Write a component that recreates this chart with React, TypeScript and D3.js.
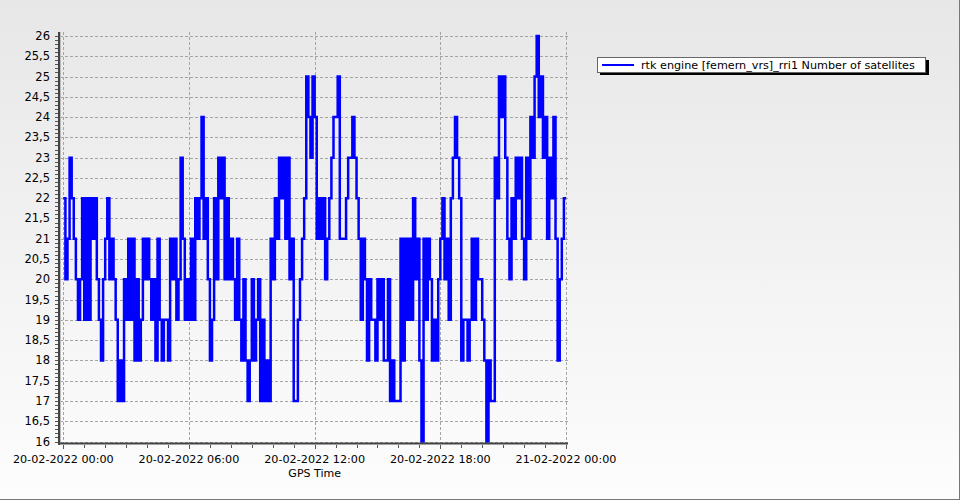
import React from 'react';
import * as d3 from 'd3';

// Number of satellites, one sample every 6 minutes, one row per hour (10 samples)
const SAMPLE_MINUTES = 6;
const satellites: number[] = [
  22, 20, 21, 23, 22, 21, 20, 19, 20, 22, // 00h
  19, 22, 19, 22, 21, 22, 20, 19, 18, 20, // 01h
  21, 22, 20, 21, 20, 19, 17, 18, 17, 20, // 02h
  19, 21, 19, 21, 18, 20, 18, 19, 21, 20, // 03h
  21, 20, 19, 20, 18, 21, 19, 18, 19, 19, // 04h
  18, 21, 20, 21, 19, 20, 23, 21, 19, 20, // 05h
  19, 21, 19, 22, 21, 22, 24, 21, 22, 20, // 06h
  18, 19, 22, 20, 23, 22, 23, 20, 22, 20, // 07h
  21, 20, 19, 21, 19, 18, 20, 18, 17, 18, // 08h
  20, 18, 19, 20, 17, 19, 17, 18, 17, 21, // 09h
  20, 22, 21, 23, 22, 23, 21, 23, 20, 21, // 10h
  17, 17, 19, 20, 21, 22, 25, 24, 23, 25, // 11h
  24, 21, 22, 21, 22, 20, 21, 22, 23, 24, // 12h
  24, 25, 21, 21, 21, 22, 23, 23, 24, 23, // 13h
  22, 21, 19, 21, 20, 18, 20, 19, 19, 18, // 14h
  20, 19, 20, 18, 18, 20, 17, 18, 17, 17, // 15h
  17, 21, 18, 21, 19, 21, 19, 22, 20, 21, // 16h
  18, 16, 21, 19, 21, 20, 18, 19, 18, 20, // 17h
  21, 22, 20, 21, 19, 22, 23, 24, 23, 22, // 18h
  18, 19, 19, 18, 19, 21, 19, 21, 20, 20, // 19h
  19, 18, 16, 18, 17, 17, 23, 22, 25, 24, // 20h
  25, 23, 21, 20, 22, 21, 23, 22, 23, 21, // 21h
  20, 23, 21, 24, 23, 25, 26, 24, 25, 23, // 22h
  24, 21, 23, 22, 24, 21, 18, 20, 21, 22, // 23h
];

const seriesName = 'rtk engine [femern_vrs]_rri1 Number of satellites';
const xAxisTitle = 'GPS Time';
const startTime = new Date(2022, 1, 20, 0, 0);
const endTime = new Date(2022, 1, 21, 0, 0);

const WIDTH = 960;
const HEIGHT = 500;
const FONT = '"DejaVu Sans", Verdana, sans-serif';

export default function App() {
  const x = d3.scaleTime().domain([startTime, endTime]).range([63.3, 566]);
  const y = d3.scaleLinear().domain([16, 26]).range([441.5, 36]);

  const points: [Date, number][] = satellites.map((v, i) => [
    new Date(startTime.getTime() + i * SAMPLE_MINUTES * 60000),
    v,
  ]);
  points.push([endTime, satellites[satellites.length - 1]]);

  const line = d3
    .line<[Date, number]>()
    .x((d) => x(d[0]))
    .y((d) => y(d[1]))
    .curve(d3.curveStepAfter);

  const yMajor = d3.range(16, 26.01, 0.5);
  const yMinor = d3.range(16, 26.01, 0.1);
  const xMajor = d3.timeHour.every(6)!.range(startTime, new Date(endTime.getTime() + 1));
  const xMinor = d3.timeMinute.every(90)!.range(startTime, new Date(endTime.getTime() + 1));
  const fmtTime = d3.timeFormat('%d-%m-%Y %H:%M');
  const fmtY = (v: number) => (Math.round(v * 10) / 10).toString().replace('.', ',');

  const left = 60;
  const right = 567;
  const top = 32;
  const bottom = 443;

  return (
    <svg
      width={WIDTH}
      height={HEIGHT}
      style={{ position: 'absolute', left: 0, top: 0 }}
      fontFamily={FONT}
    >
      <defs>
        <linearGradient id="bg" x1="0" y1="0" x2="0" y2="1">
          <stop offset="0%" stopColor="#e7e7e7" />
          <stop offset="100%" stopColor="#fdfdfd" />
        </linearGradient>
      </defs>
      <rect x={0} y={0} width={WIDTH} height={HEIGHT} fill="url(#bg)" />
      <line x1={959.5} y1={0} x2={959.5} y2={500} stroke="#777" />
      <line x1={0} y1={499.5} x2={960} y2={499.5} stroke="#777" />

      {/* grid */}
      <g stroke="#a4a4a4" strokeWidth={1} strokeDasharray="3,2">
        {yMajor.map((v) => (
          <line key={'gy' + v} x1={left} x2={right + 2} y1={Math.round(y(v)) + 0.5} y2={Math.round(y(v)) + 0.5} />
        ))}
        {xMajor.map((d) => (
          <line key={'gx' + d.getTime()} x1={Math.round(x(d)) + 0.5} x2={Math.round(x(d)) + 0.5} y1={top} y2={bottom} />
        ))}
      </g>

      {/* series */}
      <path d={line(points) ?? ''} fill="none" stroke="#0000ff" strokeWidth={2.5} />

      {/* y axis */}
      <g stroke="#555" strokeWidth={1}>
        {yMinor.map((v) => (
          <line key={'my' + v} x1={55} x2={58} y1={Math.round(y(v)) + 0.5} y2={Math.round(y(v)) + 0.5} />
        ))}
      </g>
      <line x1={59} x2={59} y1={top} y2={bottom + 2} stroke="#444" strokeWidth={2} />
      <line x1={60.5} x2={60.5} y1={top} y2={bottom} stroke="#bbb" strokeWidth={1} />
      {yMajor.map((v) => (
        <text key={'ly' + v} x={50} y={y(v) + 4} textAnchor="end" fontSize={11.5} fill="#000">
          {fmtY(v)}
        </text>
      ))}

      {/* x axis */}
      <line x1={58} x2={right + 1} y1={bottom + 0.5} y2={bottom + 0.5} stroke="#444" strokeWidth={2} />
      <g stroke="#555" strokeWidth={1}>
        {xMinor.map((d) => (
          <line key={'mx' + d.getTime()} x1={Math.round(x(d)) + 0.5} x2={Math.round(x(d)) + 0.5} y1={445} y2={448} />
        ))}
        {xMajor.map((d) => (
          <line key={'tx' + d.getTime()} x1={Math.round(x(d)) + 0.5} x2={Math.round(x(d)) + 0.5} y1={445} y2={449} />
        ))}
      </g>
      {xMajor.map((d) => (
        <text key={'lx' + d.getTime()} x={x(d)} y={463} textAnchor="middle" fontSize={11.2} fill="#000">
          {fmtTime(d)}
        </text>
      ))}
      <text x={(x(startTime) + x(endTime)) / 2} y={477} textAnchor="middle" fontSize={11} fill="#000">
        {xAxisTitle}
      </text>

      {/* legend */}
      <rect x={600} y={60} width={329} height={15} fill="#000" />
      <rect x={597.5} y={57.5} width={328} height={15} fill="#fff" stroke="#666" />
      <line x1={602} x2={634} y1={65} y2={65} stroke="#0000ff" strokeWidth={2} />
      <text x={641} y={69} fontSize={11.2} fill="#000">
        {seriesName}
      </text>
    </svg>
  );
}
